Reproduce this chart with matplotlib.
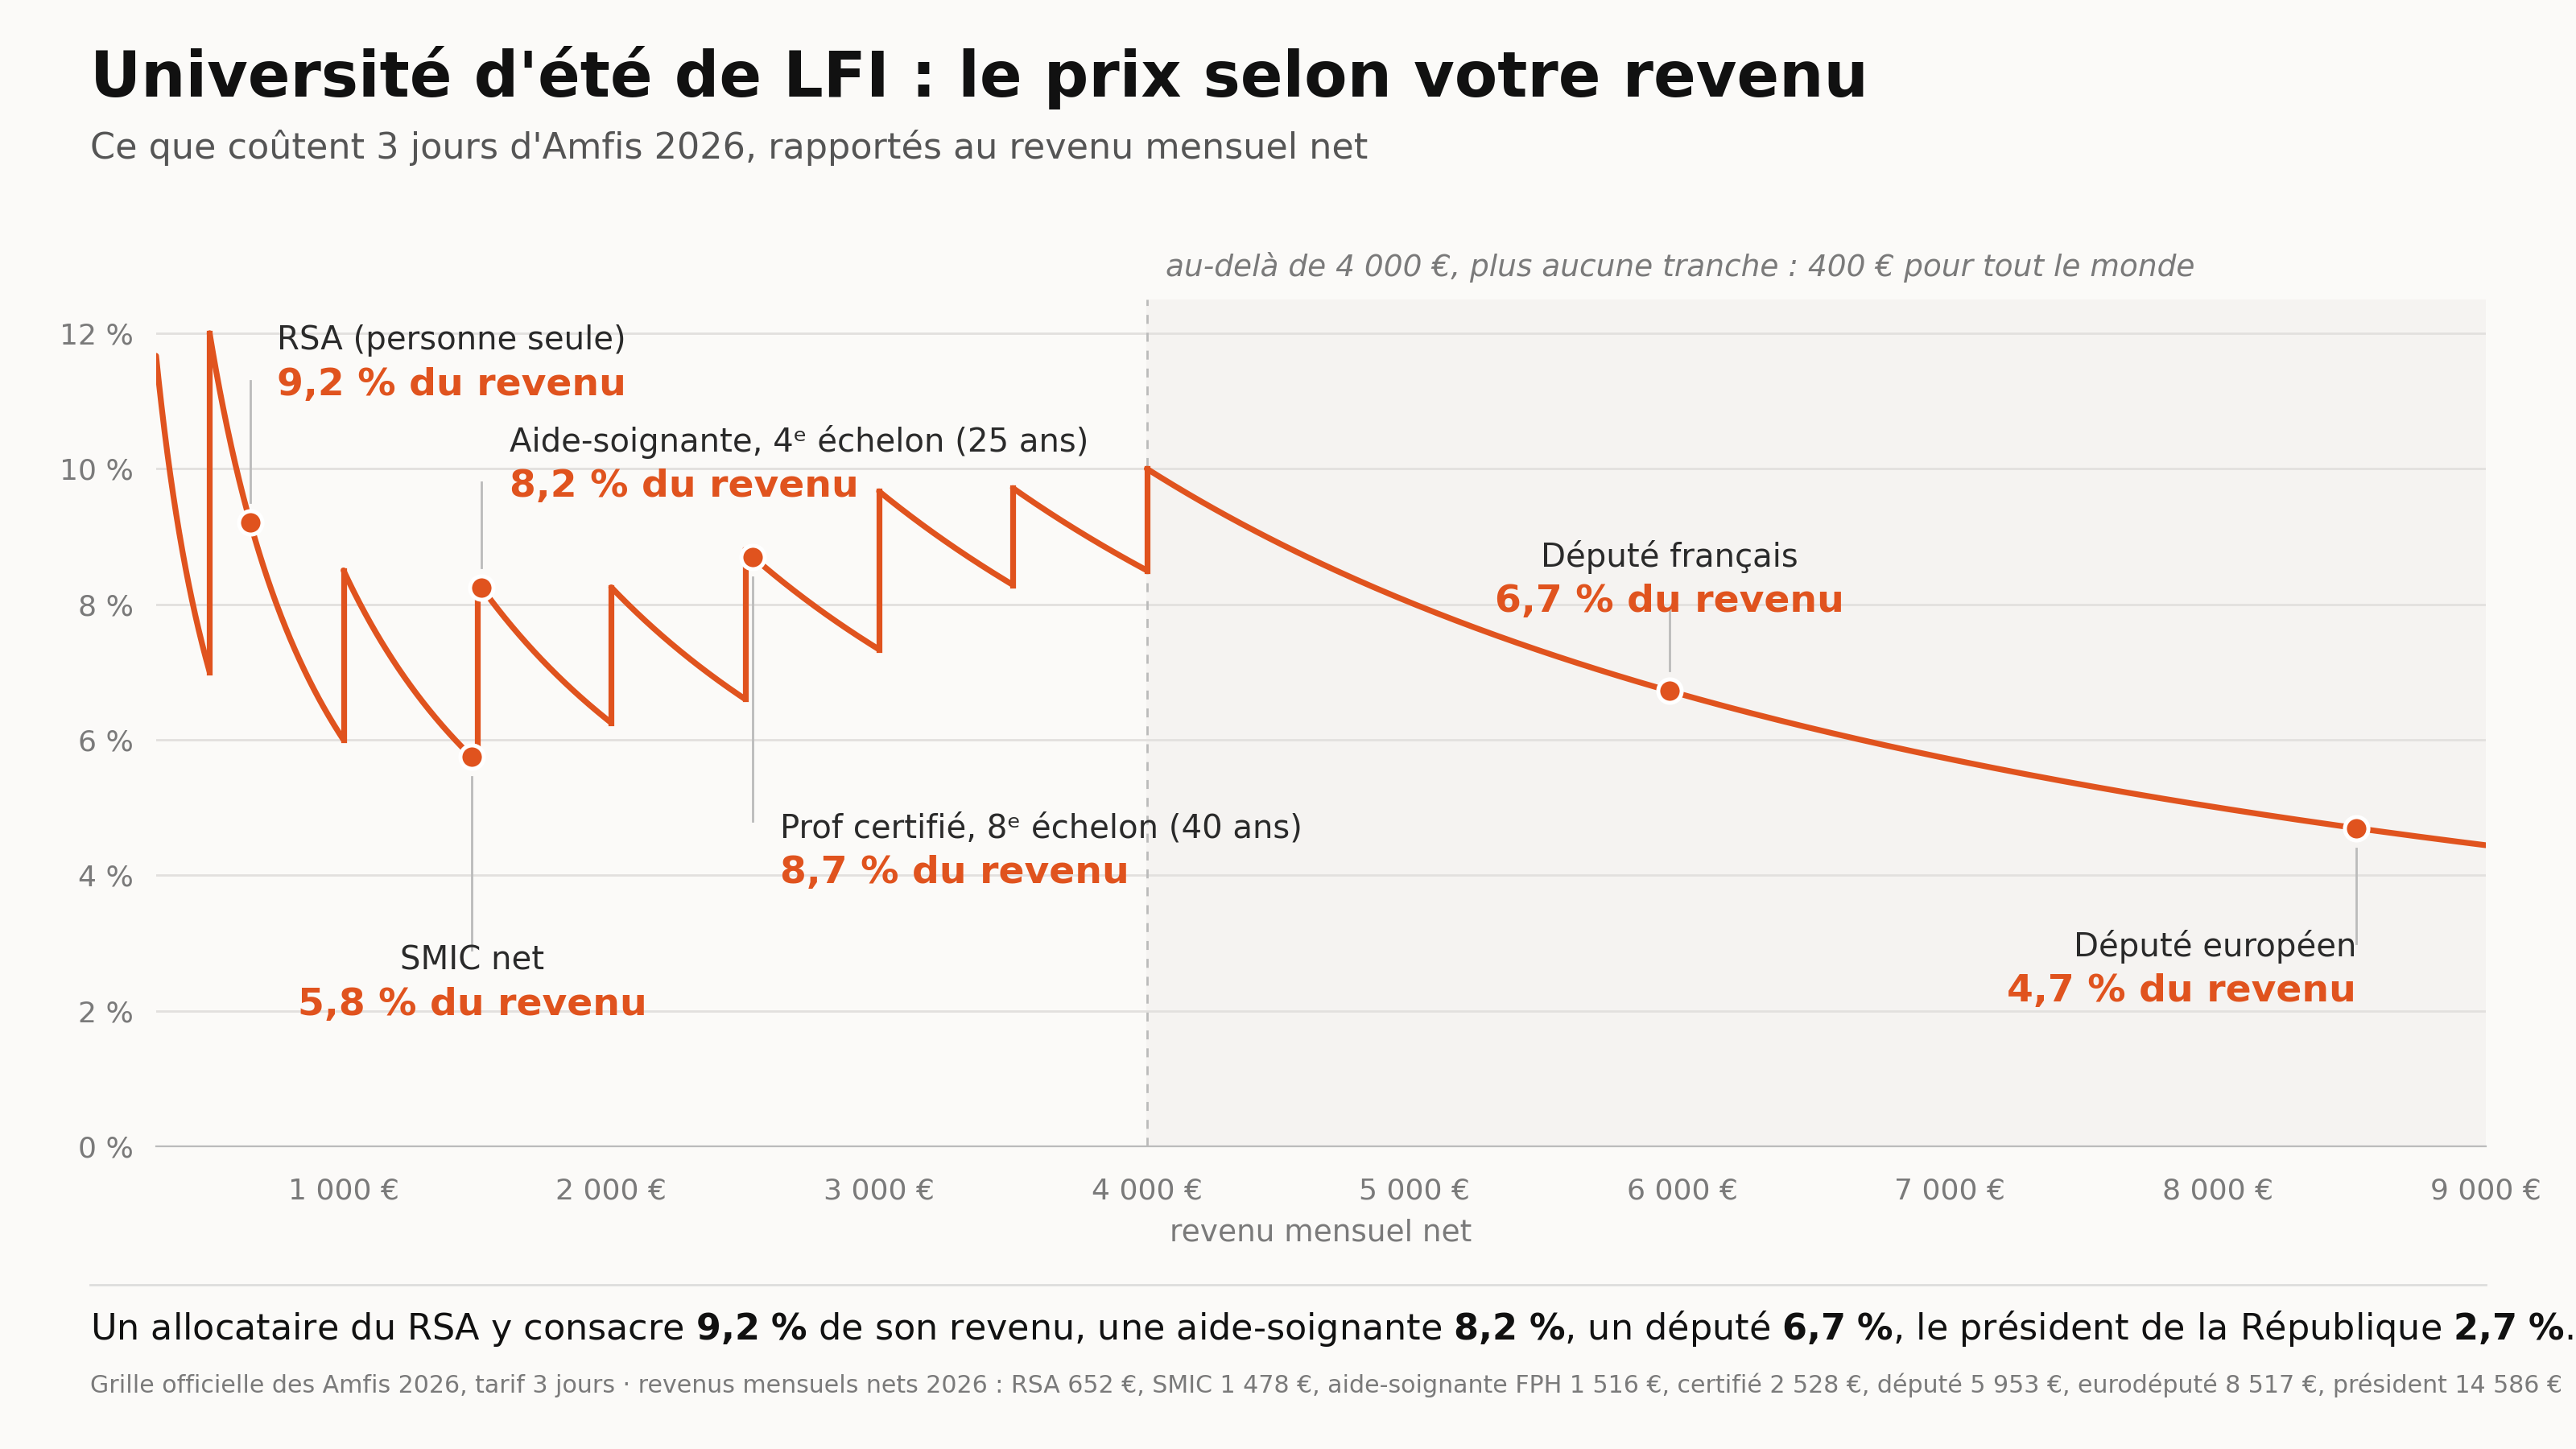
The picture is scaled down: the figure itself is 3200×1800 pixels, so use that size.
import numpy as np
import matplotlib.pyplot as plt

# price tiers (€ for 3 days) by monthly net income
tier_lo = [300, 500, 1000, 1500, 2000, 2500, 3000, 3500, 4000]
tier_hi = [500, 1000, 1500, 2000, 2500, 3000, 3500, 4000, 9000]
tier_price = [35, 60, 85, 125, 165, 220, 290, 340, 400]

# annotated people
names = ["RSA (personne seule)", "SMIC net", "Aide-soignante, 4ᵉ échelon (25 ans)",
         "Prof certifié, 8ᵉ échelon (40 ans)", "Député français", "Député européen"]
incomes = [652, 1478, 1516, 2528, 5953, 8517]
prices = [60, 85, 125, 220, 400, 400]

BG = "#fbfaf8"
ORANGE = "#e0531e"
GRID = "#e2e0de"
GREY = "#7a7a7a"

fig = plt.figure(figsize=(16, 9), dpi=200, facecolor=BG)
ax = fig.add_axes([95/1568, 1 - 697/881, (1513-95)/1568, (697-182)/881])
ax.set_facecolor(BG)

for lo, hi, p in zip(tier_lo, tier_hi, tier_price):
    x = np.linspace(lo, hi, 200)
    ax.plot(x, p / x * 100, color=ORANGE, lw=2.6, solid_capstyle="round", zorder=3)
for i in range(1, len(tier_lo)):
    x = tier_lo[i]
    ax.plot([x, x], [tier_price[i-1]/x*100, tier_price[i]/x*100], color=ORANGE, lw=2.6, zorder=3)

ax.axvspan(4000, 9000, color="#f5f3f1", zorder=0)
ax.axvline(4000, color="#bbbbbb", ls=(0, (4, 4)), lw=1)
ax.text(4070, 12.75, "au-delà de 4 000 €, plus aucune tranche : 400 € pour tout le monde",
        style="italic", color=GREY, fontsize=13.5, va="bottom")

ax.set_xlim(300, 9000)
ax.set_ylim(0, 12.5)
ax.set_yticks(range(0, 13, 2))
ax.set_yticklabels([f"{v} %" for v in range(0, 13, 2)])
ax.set_xticks(range(1000, 9001, 1000))
ax.set_xticklabels([f"{v//1000} 000 €" for v in range(1000, 9001, 1000)])
ax.tick_params(colors=GREY, labelsize=13, length=0, pad=10)
ax.tick_params(axis="x", pad=14)
ax.grid(axis="y", color=GRID, lw=1, zorder=1)
for s in ["top", "right", "left"]:
    ax.spines[s].set_visible(False)
ax.spines["bottom"].set_color("#bbbbbb")
ax.set_xlabel("revenu mensuel net", color=GREY, fontsize=13.5, labelpad=6)

pct = [p / x * 100 for p, x in zip(prices, incomes)]
ax.scatter(incomes, pct, s=110, color=ORANGE, edgecolor="white", linewidth=1.8, zorder=5)

# label positions: (text x, text y, ha, line end y)
lab = [(750, 11.5, "left", 11.3), (1480, 2.35, "center", 2.9), (1620, 10.0, "left", 9.8),
       (2630, 4.3, "left", 4.8), (5953, 8.3, "center", 7.9), (8517, 2.55, "right", 3.0)]
for n, xi, yi, (tx, ty, ha, ly) in zip(names, incomes, pct, lab):
    ax.plot([xi, xi], [yi + (0.3 if ly > yi else -0.3), ly], color="#bbbbbb", lw=1, zorder=2)
    ax.text(tx, ty + 0.15, n, ha=ha, va="bottom", fontsize=14.5, color="#2a2a2a")
    ax.text(tx, ty, f"{yi:.1f} % du revenu".replace(".", ","), ha=ha, va="top",
            fontsize=17, fontweight="bold", color=ORANGE)

fig.text(55/1568, 1 - 47/881, "Université d'été de LFI : le prix selon votre revenu",
         fontsize=28, fontweight="bold", va="center", color="#111111")
fig.text(55/1568, 1 - 90/881, "Ce que coûtent 3 jours d'Amfis 2026, rapportés au revenu mensuel net",
         fontsize=16, va="center", color="#555555")
fig.add_artist(plt.Line2D([55/1568, 1513/1568], [1 - 781/881]*2, color="#dddddd", lw=1))
fig.text(55/1568, 1 - 808/881,
         r"Un allocataire du RSA y consacre $\bf{9{,}2\ \%}$ de son revenu, une aide-soignante $\bf{8{,}2\ \%}$, "
         r"un député $\bf{6{,}7\ \%}$, le président de la République $\bf{2{,}7\ \%}$.",
         fontsize=16, va="center", color="#111111")
fig.text(55/1568, 1 - 842/881,
         "Grille officielle des Amfis 2026, tarif 3 jours · revenus mensuels nets 2026 : RSA 652 €, SMIC 1 478 €, "
         "aide-soignante FPH 1 516 €, certifié 2 528 €, député 5 953 €, eurodéputé 8 517 €, président 14 586 €",
         fontsize=10.8, va="center", color=GREY)

fig.savefig("out.png", dpi=200, facecolor=BG)
